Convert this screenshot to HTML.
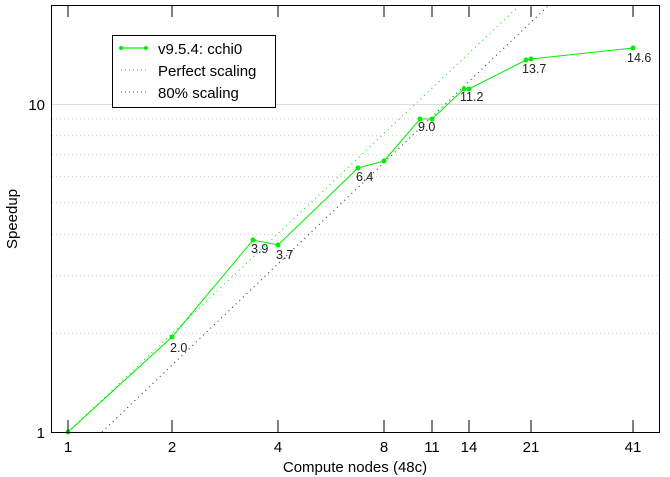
<!DOCTYPE html>
<html><head><style>html,body{margin:0;padding:0;background:#fff}svg{display:block}text{font-family:"Liberation Sans",sans-serif}</style></head>
<body>
<svg width="670" height="477" viewBox="0 0 670 477" xmlns="http://www.w3.org/2000/svg">
<g stroke="#ccc" stroke-width="1" stroke-dasharray="1,3">
<line x1="52" x2="660" y1="333.3" y2="333.3"/>
<line x1="52" x2="660" y1="275.5" y2="275.5"/>
<line x1="52" x2="660" y1="234.5" y2="234.5"/>
<line x1="52" x2="660" y1="202.7" y2="202.7"/>
<line x1="52" x2="660" y1="176.8" y2="176.8"/>
<line x1="52" x2="660" y1="154.8" y2="154.8"/>
<line x1="52" x2="660" y1="135.8" y2="135.8"/>
<line x1="52" x2="660" y1="118.9" y2="118.9"/>
</g>
<line x1="52" x2="660" y1="104.5" y2="104.5" stroke="#ddd"/>
<line x1="68" y1="432" x2="520" y2="5" stroke="#22dd22" stroke-dasharray="1,4" stroke-width="1.2"/>
<line x1="102" y1="432" x2="549" y2="5" stroke="#116611" stroke-dasharray="1,4" stroke-width="1.2"/>
<polyline fill="none" stroke="#00ee00" stroke-width="1" points="68,432 172,337 253,240 278,245 358,168 384,161 420,119 432,119 464,89 469,89 526,60 531,59 633,48"/>
<g fill="#00ee00">
<circle cx="68" cy="432" r="2.5"/><circle cx="172" cy="337" r="2.5"/><circle cx="253" cy="240" r="2.5"/><circle cx="278" cy="245" r="2.5"/><circle cx="358" cy="168" r="2.5"/><circle cx="384" cy="161" r="2.5"/><circle cx="420" cy="119" r="2.5"/><circle cx="432" cy="119" r="2.5"/><circle cx="464" cy="89" r="2.5"/><circle cx="469" cy="89" r="2.5"/><circle cx="526" cy="60" r="2.5"/><circle cx="531" cy="59" r="2.5"/><circle cx="633" cy="48" r="2.5"/>
</g>
<g font-size="12.5" fill="#222">
<text x="170" y="352">2.0</text><text x="251" y="253">3.9</text><text x="276" y="259">3.7</text>
<text x="356" y="181">6.4</text><text x="418" y="131">9.0</text><text x="460" y="101">11.2</text>
<text x="522" y="73">13.7</text><text x="627" y="62">14.6</text>
</g>
<rect x="51.5" y="5.5" width="608" height="427" fill="none" stroke="#000"/>
<g stroke="#000">
<line x1="68" x2="68" y1="5" y2="17"/><line x1="172" x2="172" y1="5" y2="17"/><line x1="278" x2="278" y1="5" y2="17"/><line x1="384" x2="384" y1="5" y2="17"/><line x1="432" x2="432" y1="5" y2="17"/><line x1="469" x2="469" y1="5" y2="17"/><line x1="531" x2="531" y1="5" y2="17"/><line x1="633" x2="633" y1="5" y2="17"/>
<line x1="68" x2="68" y1="432" y2="420"/><line x1="172" x2="172" y1="432" y2="420"/><line x1="278" x2="278" y1="432" y2="420"/><line x1="384" x2="384" y1="432" y2="420"/><line x1="432" x2="432" y1="432" y2="420"/><line x1="469" x2="469" y1="432" y2="420"/><line x1="531" x2="531" y1="432" y2="420"/><line x1="633" x2="633" y1="432" y2="420"/>
</g>
<g font-size="15" fill="#000" text-anchor="middle">
<text x="68" y="452">1</text><text x="172" y="452">2</text><text x="278" y="452">4</text><text x="384" y="452">8</text><text x="432" y="452">11</text><text x="469" y="452">14</text><text x="531" y="452">21</text><text x="633" y="452">41</text>
<text x="355" y="472">Compute nodes (48c)</text>
<text x="45" y="438" text-anchor="end">1</text><text x="45" y="110" text-anchor="end">10</text>
<text transform="translate(17,219) rotate(-90)">Speedup</text>
</g>
<rect x="112.5" y="35.5" width="163" height="72" fill="#fff" stroke="#000"/>
<line x1="120" x2="146" y1="48" y2="48" stroke="#00ee00" stroke-width="1.2"/>
<circle cx="121" cy="48" r="2" fill="#00ee00"/><circle cx="146" cy="48" r="2" fill="#00ee00"/>
<line x1="121" x2="146" y1="70" y2="70" stroke="#22dd22" stroke-dasharray="1,3"/>
<line x1="121" x2="146" y1="92" y2="92" stroke="#116611" stroke-dasharray="1,3"/>
<g font-size="15" fill="#000"><text x="158" y="54">v9.5.4: cchi0</text><text x="158" y="76">Perfect scaling</text><text x="158" y="98">80% scaling</text></g>
</svg>
</body></html>
